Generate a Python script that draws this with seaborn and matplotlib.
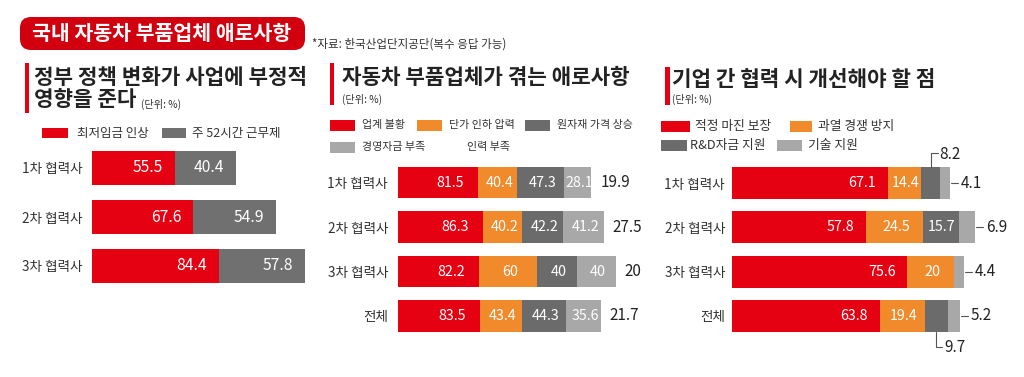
import numpy as np
import pandas as pd
import matplotlib
matplotlib.use("Agg")
import matplotlib.pyplot as plt
import seaborn as sns
from matplotlib.patches import Rectangle, FancyBboxPatch
from matplotlib.transforms import IdentityTransform

# ---------------- data ----------------
main_title = "국내 자동차 부품업체 애로사항"
source_note = "*자료: 한국산업단지공단(복수 응답 가능)"

p1_title = ["정부 정책 변화가 사업에 부정적", "영향을 준다"]
p1_categories = ["1차 협력사", "2차 협력사", "3차 협력사"]
p1_series = ["최저임금 인상", "주 52시간 근무제"]
p1_min_wage = [55.5, 67.6, 84.4]
p1_52hours = [40.4, 54.9, 57.8]

p2_title = "자동차 부품업체가 겪는 애로사항"
p2_categories = ["1차 협력사", "2차 협력사", "3차 협력사", "전체"]
p2_series = ["업계 불황", "단가 인하 압력", "원자재 가격 상승", "경영자금 부족", "인력 부족"]
p2_recession = [81.5, 86.3, 82.2, 83.5]
p2_price_cut = [40.4, 40.2, 60, 43.4]
p2_materials = [47.3, 42.2, 40, 44.3]
p2_funding = [28.1, 41.2, 40, 35.6]
p2_labor = [19.9, 27.5, 20, 21.7]

p3_title = "기업 간 협력 시 개선해야 할 점"
p3_categories = ["1차 협력사", "2차 협력사", "3차 협력사", "전체"]
p3_series = ["적정 마진 보장", "과열 경쟁 방지", "R&D자금 지원", "기술 지원"]
p3_margin = [67.1, 57.8, 75.6, 63.8]
p3_competition = [14.4, 24.5, 20, 19.4]
p3_rnd = [8.2, 15.7, 0, 9.7]
p3_tech = [4.1, 6.9, 4.4, 5.2]

unit_text = "(단위: %)"

# ---------------- style ----------------
RED = "#e50012"
ORANGE = "#f08a2a"
DGRAY = "#6b6b6b"
LGRAY = "#a8a8a8"
P1GRAY = "#707070"
TXT = "#222222"

sns.set_theme(style="white")
plt.rcParams['font.family'] = ['Noto Sans CJK KR', 'DejaVu Sans']

W, H = 1024, 377
fig = plt.figure(figsize=(W / 100, H / 100), dpi=100)
fig.patch.set_facecolor("white")


def fx(x):
    return x / W


def fy(y):
    return 1 - y / H


def px_rect(x0, y0, x1, y1, color):
    r = Rectangle((x0, H - y1), x1 - x0, y1 - y0, transform=IdentityTransform(),
                  facecolor=color, edgecolor="none")
    fig.patches.append(r)


def ax_px(x0, y0, x1, y1):
    return fig.add_axes([fx(x0), fy(y1), (x1 - x0) / W, (y1 - y0) / H])


def fmt(v):
    return f"{v:g}"


def stacked(ax, cats, series, colors, width, xmax, pad):
    vals = np.array(series, dtype=float)
    cum = np.cumsum(vals, axis=0)
    for j in range(len(series) - 1, -1, -1):
        df = pd.DataFrame({"cat": cats, "val": cum[j]})
        sns.barplot(data=df, x="val", y="cat", color=colors[j], width=width,
                    saturation=1, errorbar=None, linewidth=0, ax=ax)
    ax.set_xlim(0, xmax)
    ax.set_ylim(len(cats) - 0.5, -0.5)
    ax.set_xlabel("")
    ax.set_ylabel("")
    ax.set_xticks([])
    for s in ax.spines.values():
        s.set_visible(False)
    ax.tick_params(axis="y", length=0, pad=pad, labelsize=9.8, labelcolor="#333333")
    ax.set_facecolor("none")
    return vals, cum


TW = "heavy"
TS = 15.3

# ---------------- header ----------------
box = FancyBboxPatch((20, H - 50), 285, 33, boxstyle="round,pad=0,rounding_size=11",
                     transform=IdentityTransform(), facecolor="#d2000f", edgecolor="none")
fig.patches.append(box)
fig.text(fx(162), fy(33), main_title, color="white", fontsize=14.8, fontweight=TW,
         ha="center", va="center")
fig.text(fx(312), fy(44), source_note, color="#333333", fontsize=8.3, ha="left", va="center")

# ---------------- panel 1 ----------------
px_rect(25, 63, 29, 113, RED)
fig.text(fx(34), fy(77), p1_title[0], fontsize=TS, fontweight=TW, color=TXT, va="center")
fig.text(fx(34), fy(100), p1_title[1], fontsize=TS, fontweight=TW, color=TXT, va="center")
fig.text(fx(141), fy(104), unit_text, fontsize=7.3, color="#333333", va="center")

px_rect(42, 128, 68, 138, RED)
fig.text(fx(77), fy(133), p1_series[0], fontsize=9, color="#333333", va="center")
px_rect(162, 128, 186, 138, P1GRAY)
fig.text(fx(192), fy(133), p1_series[1], fontsize=9, color="#333333", va="center")

ax1 = ax_px(92, 143.5, 317, 290.5)
v1, c1 = stacked(ax1, p1_categories, [p1_min_wage, p1_52hours], [RED, P1GRAY], 0.69, 150, 6.5)
for j in range(v1.shape[0]):
    for i in range(v1.shape[1]):
        ax1.text(c1[j, i] - 8, i, fmt(v1[j, i]), color="white", fontsize=11.3,
                 ha="right", va="center")

# ---------------- panel 2 ----------------
px_rect(330, 63, 334, 105, RED)
fig.text(fx(342), fy(77), p2_title, fontsize=TS, fontweight=TW, color=TXT, va="center")
fig.text(fx(342), fy(99), unit_text, fontsize=7.3, color="#333333", va="center")

p2_colors = [RED, ORANGE, DGRAY, LGRAY, "white"]
p2_leg = [(330, 125), (417, 125), (525, 125), (330, 147), (417, 147)]
for k, (lx, ly) in enumerate(p2_leg):
    px_rect(lx, ly - 5.5, lx + 25, ly + 5.5, p2_colors[k])
    fig.text(fx(lx + 32 + (18 if k == 4 else 0)), fy(ly), p2_series[k], fontsize=7.9,
             color="#333333", va="center")

ax2 = ax_px(398, 160.25, 652.8, 338.25)
v2, c2 = stacked(ax2, p2_categories,
                 [p2_recession, p2_price_cut, p2_materials, p2_funding, p2_labor],
                 p2_colors, 0.70, 260, 7.2)
for i in range(v2.shape[1]):
    ax2.text(c2[0, i] - 14, i, fmt(v2[0, i]), color="white", fontsize=10.3,
             ha="right", va="center")
    for j in (1, 2, 3):
        ax2.text(c2[j, i] - v2[j, i] / 2 + 2, i, fmt(v2[j, i]), color="white",
                 fontsize=10.3, ha="center", va="center")
    ax2.text(c2[3, i] + 9, i, fmt(v2[4, i]), color=TXT, fontsize=11,
             ha="left", va="center")

# ---------------- panel 3 ----------------
px_rect(665, 67, 670, 105, RED)
fig.text(fx(672), fy(79), p3_title, fontsize=TS, fontweight=TW, color=TXT, va="center")
fig.text(fx(672), fy(99), unit_text, fontsize=7.3, color="#333333", va="center")

p3_colors = [RED, ORANGE, DGRAY, LGRAY]
p3_leg = [(661, 126, 29), (790, 126, 22), (661, 145, 26), (777, 145, 25)]
p3_txt_x = [695, 818, 690, 808]
for k, (lx, ly, lw) in enumerate(p3_leg):
    px_rect(lx, ly - 5.5, lx + lw, ly + 5.5, p3_colors[k])
    fig.text(fx(p3_txt_x[k]), fy(ly), p3_series[k], fontsize=9.2, color="#333333", va="center")

ax3 = ax_px(732, 161, 1022, 338)
v3, c3 = stacked(ax3, p3_categories, [p3_margin, p3_competition, p3_rnd, p3_tech],
                 p3_colors, 0.72, 125, 5)
u = 1 / 2.32  # data units per pixel
rnd_place = ["above", "inside", None, "below"]
for i in range(v3.shape[1]):
    ax3.text(c3[0, i] - 12 * u, i, fmt(v3[0, i]), color="white", fontsize=10.3,
             ha="right", va="center")
    ax3.text(c3[1, i] - v3[1, i] / 2 + 1.5 * u, i, fmt(v3[1, i]), color="white",
             fontsize=10.3, ha="center", va="center")
    place = rnd_place[i]
    xc = c3[2, i] - v3[2, i] / 2
    if place == "inside":
        ax3.text(xc, i, fmt(v3[2, i]), color="white", fontsize=10.3, ha="center", va="center")
    elif place == "above":
        yl = i - 30 / 44.3
        ax3.plot([xc, xc, xc + 7 * u], [i - 0.36, yl, yl], color="#555555", lw=0.8, clip_on=False)
        ax3.text(xc + 9 * u, yl + 0.04, fmt(v3[2, i]), color=TXT, fontsize=11,
                 ha="left", va="center")
    elif place == "below":
        yl = i + 31 / 44.3
        ax3.plot([xc, xc, xc + 6 * u], [i + 0.36, yl, yl], color="#555555", lw=0.8, clip_on=False)
        ax3.text(xc + 8 * u, yl + 0.02, fmt(v3[2, i]), color=TXT, fontsize=11,
                 ha="left", va="center")
    xe = c3[3, i]
    ax3.plot([xe + 1 * u, xe + 8 * u], [i, i], color="#555555", lw=0.8, clip_on=False)
    ax3.text(xe + 11 * u, i, fmt(v3[3, i]), color=TXT, fontsize=11, ha="left", va="center")

fig.savefig("out.png", dpi=100, facecolor="white")
